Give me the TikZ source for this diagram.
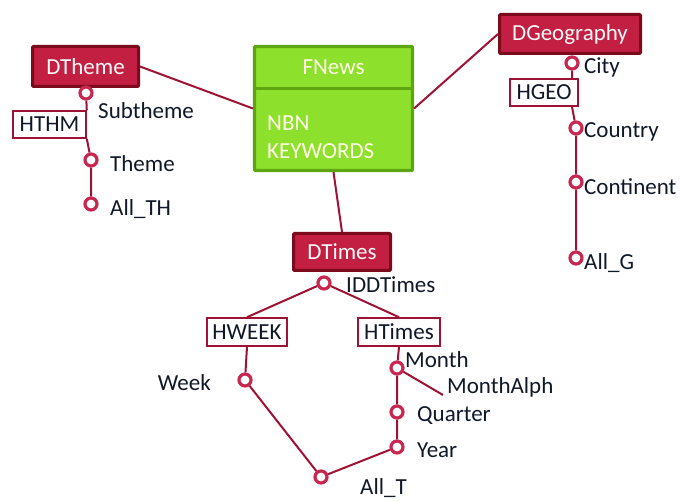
\documentclass[tikz,border=0pt]{standalone}
\usepackage{fontspec}
\setmainfont{Carlito}
\definecolor{dimfill}{HTML}{C21F42}
\definecolor{dimedge}{HTML}{7A0A1C}
\definecolor{factfill}{HTML}{8DE02C}
\definecolor{factedge}{HTML}{5EA512}
\definecolor{linkred}{HTML}{9E1234}
\definecolor{lvlred}{HTML}{C8284F}
\definecolor{inktext}{HTML}{101828}
\begin{document}
\begin{tikzpicture}[x=1pt,y=-1pt,
    every node/.style={font=\fontsize{23}{27}\selectfont,text=inktext},
    dim/.style={draw=dimedge,line width=3pt,fill=dimfill,text=white!92!pink,rounded corners=1pt,inner sep=0pt},
    hier/.style={draw=linkred,line width=1.6pt,fill=white,inner sep=0pt,minimum height=27pt},
    lvl/.style={circle,draw=lvlred,line width=3.2pt,fill=white,inner sep=0pt,minimum size=12pt},
    link/.style={draw=linkred,line width=2pt}]
  \useasboundingbox (0,0) rectangle (680,502);
  \node[draw=factedge,line width=3.2pt,fill=factfill,rounded corners=1pt,minimum width=158pt,minimum height=124pt] (fnews) at (333.5,108.5) {};
  \draw[factedge,line width=3.2pt] (fnews.north west) ++(0,44) -- ++(158,0);
  \node[text=white!90!yellow] (fnewst) at (333.5,67) {FNews};
  \node[text=white!90!yellow,anchor=west,inner sep=0pt] (nbn) at (267,123) {NBN};
  \node[text=white!90!yellow,anchor=west,inner sep=0pt] (kw) at (267,151) {KEYWORDS};
  \node[dim,minimum width=106pt,minimum height=40pt] (dtheme) at (85.5,66.5) {DTheme};
  \node[dim,minimum width=141pt,minimum height=39pt] (dgeo) at (570,34) {DGeography};
  \node[dim,minimum width=97pt,minimum height=37pt] (dtimes) at (342,252) {DTimes};
  \node[hier,minimum width=73pt] (hthm) at (49.5,124.5) {HTHM};
  \node[hier,minimum width=68pt] (hgeo) at (544,92.5) {HGEO};
  \node[hier,minimum width=80pt,minimum height=28pt] (hweek) at (247,332) {HWEEK};
  \node[hier,minimum width=82pt,minimum height=28pt] (htimes) at (399,332) {HTimes};
  \foreach \n/\cx/\cy/\lx/\ly/\a/\t in {subtheme/86/93/98/111/west/Subtheme,
      theme/91/160/110/164/west/Theme, allth/91/204/110/209/west/All\_TH,
      city/572/63/584/67/west/City, country/576/128/584/132/west/Country,
      continent/576/182/584/187/west/Continent, allg/576/258/584/263/west/All\_G,
      iddtimes/324/283/346/285/west/IDDTimes, week/245/380/211/383/east/Week,
      month/397/368/405/360/west/Month, quarter/397/412/417/416/west/Quarter,
      year/397/447/417/450/west/Year, allt/321/477/360/488/west/All\_T} {
    \node[lvl] (\n) at (\cx,\cy) {};
    \node[anchor=\a,inner sep=0pt] (\n-l) at (\lx,\ly) {\t};
  }
  \node[anchor=west,inner sep=0pt] (monthalph-l) at (447,387) {MonthAlph};
  \coordinate (malph) at (443,395);
  \draw[link] (dtheme.east) -- (fnews.west);
  \draw[link] (fnews.east) -- (dgeo.west);
  \draw[link] (fnews.south) -- (dtimes.north);
  \draw[link] (subtheme) -- (hthm.north east) (hthm.south east) -- (theme) -- (allth);
  \draw[link] (city) -- (city |- hgeo.north) (city |- hgeo.south) -- (country) -- (continent) -- (allg);
  \draw[link] (iddtimes) -- (hweek.north) (iddtimes) -- (htimes.north);
  \draw[link] (hweek.south) -- (week) -- (allt) -- (year) -- (quarter) -- (month) -- (htimes.south);
  \draw[link] (month) -- (malph);
\end{tikzpicture}
\end{document}
